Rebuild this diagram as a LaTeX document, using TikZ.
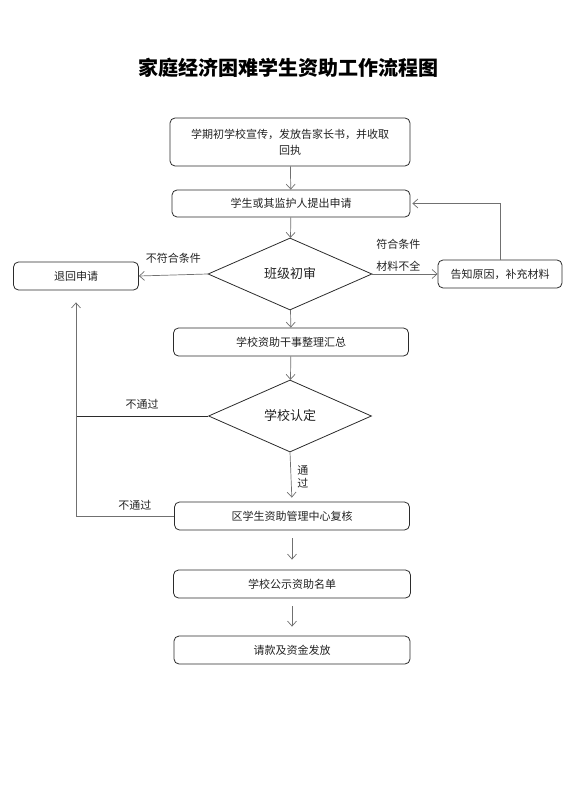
\documentclass[tikz,border=0pt]{standalone}
\usepackage{fontspec}
\newfontfamily\cjk{Noto Sans CJK SC}
\usetikzlibrary{arrows.meta,shapes.geometric}
\definecolor{cborde}{HTML}{2B2B2B}
\definecolor{clinea}{HTML}{707070}
\definecolor{ctexto}{HTML}{222222}
\tikzset{
  bloque/.style={draw=cborde,line width=0.8pt,rounded corners=5pt,align=center,
                 inner sep=2pt,font=\cjk\fontsize{11}{16}\selectfont,text=ctexto},
  rombo/.style={draw=cborde,line width=0.8pt,diamond,aspect=2.3,inner sep=0pt,
                font=\cjk\fontsize{13}{16}\selectfont,text=ctexto},
  flecha/.style={-{Straight Barb[length=5pt,width=9pt]},draw=clinea,line width=0.7pt},
  linea/.style={draw=cborde,line width=0.7pt},
  et/.style={font=\cjk\fontsize{11}{13}\selectfont,text=ctexto,inner sep=1pt,align=center},
  tit/.style={font=\cjk\bfseries\fontsize{20}{24}\selectfont,text=black},
}
\begin{document}
\begin{tikzpicture}[x=1pt,y=-1pt]
\useasboundingbox (0,0) rectangle (575,799);

\node[tit] (titulo) at (288,68) {家庭经济困难学生资助工作流程图};

\node[bloque,minimum width=240pt,minimum height=48pt] (xuanchuan) at (290,142)
  {学期初学校宣传，发放告家长书，并收取\\回执};
\node[bloque,minimum width=238pt,minimum height=27pt] (shenqing) at (291,203.5)
  {学生或其监护人提出申请};
\node[rombo,minimum width=164pt,minimum height=72pt] (chushen) at (290,274) {班级初审};
\node[bloque,minimum width=125pt,minimum height=28pt] (tuihui) at (76,276) {退回申请};
\node[bloque,minimum width=124pt,minimum height=28pt] (buchong) at (500,274)
  {告知原因，补充材料};
\node[bloque,minimum width=235pt,minimum height=28pt] (huizong) at (291,342)
  {学校资助干事整理汇总};
\node[rombo,minimum width=163pt,minimum height=72pt] (rending) at (290,416) {学校认定};
\node[bloque,minimum width=235pt,minimum height=28pt] (fuhe) at (292,516)
  {区学生资助管理中心复核};
\node[bloque,minimum width=237pt,minimum height=28pt] (gongshi) at (292,584)
  {学校公示资助名单};
\node[bloque,minimum width=236pt,minimum height=28pt] (fafang) at (292,650)
  {请款及资金发放};

\draw[flecha] (xuanchuan) -- (shenqing);
\draw[flecha] (shenqing) -- (chushen);
\draw[flecha] (chushen.west) -- node[et,above=10pt] {不符合条件} (tuihui.east);
\draw[flecha] (chushen.east) -- node[et,above=1pt,pos=0.4] {符合条件\\[9pt]材料不全} (buchong.west);
\draw[flecha,shorten >=2pt] (buchong.north) |- (shenqing.east);
\draw[flecha] (chushen) -- (huizong);
\draw[flecha] (huizong) -- (rending);
\draw[flecha,shorten >=4pt] (rending.south) -- node[et,right=5pt] {通\\过} (fuhe.north);
\draw[flecha,shorten <=8pt,shorten >=10pt] (fuhe) -- (gongshi);
\draw[flecha,shorten <=8pt,shorten >=9pt] (gongshi) -- (fafang);
% los dos "no aprobado" suben juntos por la izquierda hasta tuihui
\draw[linea] (rending.west) -- node[et,above=5pt] {不通过} (rending.west -| tuihui.south);
\draw[flecha,shorten >=12pt] (fuhe.west) -| node[et,above=4pt,pos=0.2] {不通过} (tuihui.south);

\end{tikzpicture}
\end{document}
